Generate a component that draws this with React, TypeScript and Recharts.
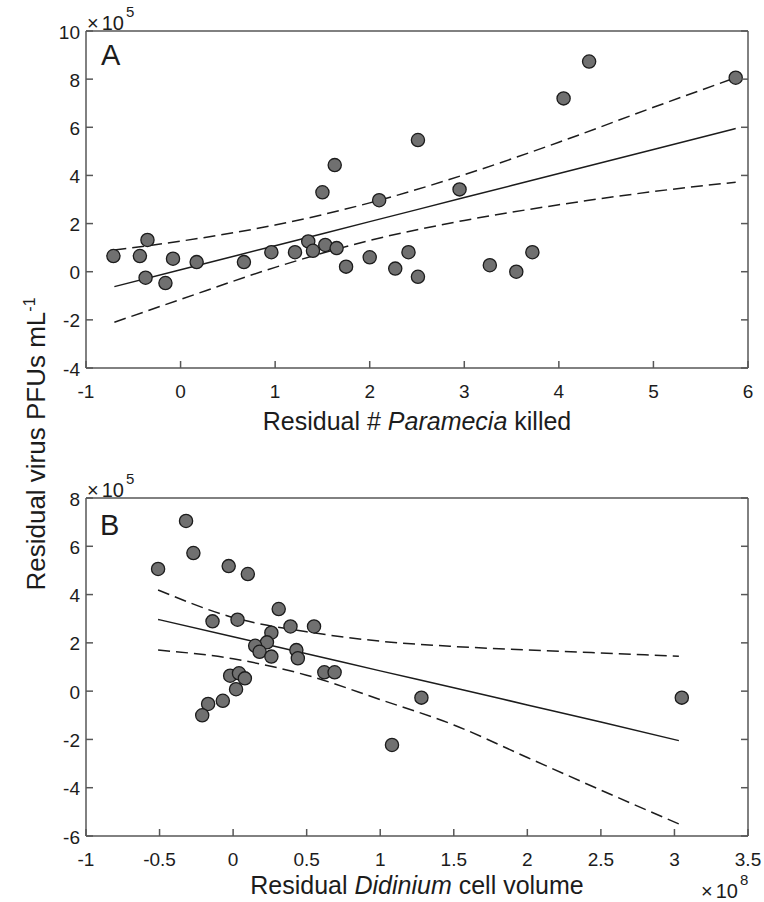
import React from 'react';
import { ComposedChart, Scatter, Line, XAxis, YAxis } from 'recharts';

const FONT = '"Liberation Sans", Arial, Helvetica, sans-serif';
const INK = '#1c1c1c';
const FRAME = '#575757';

// Panel A: residual # Paramecia killed vs residual virus (x10^5 PFUs/mL)
const killedA = [-0.71, -0.43, -0.35, -0.37, -0.16, -0.08, 0.17, 0.67, 0.96, 1.21, 1.35, 1.4, 1.5, 1.53, 1.63, 1.65, 1.75, 2.0, 2.1, 2.27, 2.41, 2.51, 2.51, 2.95, 3.27, 3.55, 3.72, 4.05, 4.32, 5.87];
const virusA = [0.65, 0.65, 1.32, -0.25, -0.47, 0.54, 0.4, 0.4, 0.81, 0.81, 1.26, 0.87, 3.3, 1.11, 4.43, 0.98, 0.21, 0.6, 2.97, 0.13, 0.81, 5.47, -0.21, 3.42, 0.27, 0.0, 0.81, 7.2, 8.73, 8.06];
const fitXA = [-0.7, 0, 1, 2, 3, 4, 5, 5.87];
const fitA = [-0.62, 0.08, 1.08, 2.08, 3.08, 4.08, 5.08, 5.95];
const upperA = [0.9, 1.27, 1.94, 2.86, 4.03, 5.38, 6.83, 8.06];
const lowerA = [-2.1, -1.15, 0.18, 1.3, 2.13, 2.78, 3.33, 3.72];
const xTicksA = [-1, 0, 1, 2, 3, 4, 5, 6];
const yTicksA = [-4, -2, 0, 2, 4, 6, 8, 10];

// Panel B: residual Didinium cell volume (x10^8) vs residual virus (x10^5)
const volumeB = [-0.51, -0.32, -0.27, -0.03, 0.1, -0.14, 0.03, 0.31, 0.26, 0.39, 0.55, 0.23, 0.15, 0.18, 0.26, 0.43, 0.44, 0.62, 0.69, -0.02, 0.04, 0.08, 0.02, -0.07, -0.17, -0.21, 1.08, 1.28, 3.05];
const virusB = [5.06, 7.05, 5.72, 5.18, 4.85, 2.89, 2.96, 3.4, 2.42, 2.68, 2.68, 2.02, 1.88, 1.63, 1.43, 1.7, 1.36, 0.78, 0.78, 0.64, 0.74, 0.53, 0.08, -0.4, -0.53, -1.0, -2.23, -0.27, -0.27];
const fitXB = [-0.51, 0, 0.5, 1, 1.5, 2, 2.5, 3.03];
const fitB = [2.97, 2.25, 1.55, 0.84, 0.14, -0.57, -1.28, -2.05];
const upperB = [4.19, 3.05, 2.46, 2.07, 1.85, 1.71, 1.58, 1.45];
const lowerB = [1.7, 1.34, 0.66, -0.35, -1.4, -2.75, -4.1, -5.5];
const xTicksB = [-1, -0.5, 0, 0.5, 1, 1.5, 2, 2.5, 3, 3.5];
const yTicksB = [-6, -4, -2, 0, 2, 4, 6, 8];

const zip = (xs: number[], ys: number[]) => xs.map((x, i) => ({ x, y: ys[i] }));

const Dot = (p: any) => (
  <circle cx={p.cx} cy={p.cy} r={6.6} fill="#707070" stroke={INK} strokeWidth={1.3} />
);

const tickText = { fontFamily: FONT, fontSize: 19, fill: INK };

const BottomTick = ({ x, y, payload }: any) => (
  <g>
    <line x1={x} y1={y} x2={x} y2={y - 7} stroke={FRAME} strokeWidth={1.5} />
    <text x={x} y={y + 23} textAnchor="middle" dominantBaseline="central" {...tickText}>
      {String(payload.value)}
    </text>
  </g>
);
const LeftTick = ({ x, y, payload }: any) => (
  <g>
    <line x1={x} y1={y} x2={x + 7} y2={y} stroke={FRAME} strokeWidth={1.5} />
    <text x={x - 6} y={y + 1} textAnchor="end" dominantBaseline="central" {...tickText}>
      {String(payload.value)}
    </text>
  </g>
);
const TopTick = ({ x, y }: any) => (
  <line x1={x} y1={y} x2={x} y2={y + 7} stroke={FRAME} strokeWidth={1.5} />
);
const RightTick = ({ x, y }: any) => (
  <line x1={x} y1={y} x2={x - 7} y2={y} stroke={FRAME} strokeWidth={1.5} />
);

const axisLine = { stroke: FRAME, strokeWidth: 1.5 };

function Panel({ points, fx, fit, up, lo, xDomain, yDomain, xTicks, yTicks, top, bottom }: any) {
  return (
    <ComposedChart width={764} height={440} margin={{ top: top - 1, right: 15, bottom: bottom - 1, left: 85 }}>
      <XAxis type="number" dataKey="x" domain={xDomain} ticks={xTicks} allowDataOverflow
        height={1} tickSize={0} tickMargin={0} tickLine={false} axisLine={axisLine} tick={<BottomTick />} interval={0} />
      <XAxis xAxisId="top" orientation="top" type="number" domain={xDomain} ticks={xTicks} allowDataOverflow
        height={1} tickSize={0} tickMargin={0} tickLine={false} axisLine={axisLine} tick={<TopTick />} interval={0} />
      <YAxis type="number" dataKey="y" domain={yDomain} ticks={yTicks} allowDataOverflow
        width={1} tickSize={0} tickMargin={0} tickLine={false} axisLine={axisLine} tick={<LeftTick />} interval={0} />
      <YAxis yAxisId="right" orientation="right" type="number" domain={yDomain} ticks={yTicks} allowDataOverflow
        width={1} tickSize={0} tickMargin={0} tickLine={false} axisLine={axisLine} tick={<RightTick />} interval={0} />
      <Scatter data={points} dataKey="y" shape={Dot} isAnimationActive={false} />
      <Line data={zip(fx, fit)} dataKey="y" type="monotone" stroke={INK} strokeWidth={1.5} dot={false} isAnimationActive={false} />
      <Line data={zip(fx, up)} dataKey="y" type="monotone" stroke={INK} strokeWidth={1.5} strokeDasharray="12 6" dot={false} isAnimationActive={false} />
      <Line data={zip(fx, lo)} dataKey="y" type="monotone" stroke={INK} strokeWidth={1.5} strokeDasharray="12 6" dot={false} isAnimationActive={false} />
    </ComposedChart>
  );
}

const abs = (left: number, top: number, extra: any = {}) => ({ position: 'absolute' as const, left, top, ...extra });

function TimesTen({ left, cy, exp }: { left: number; cy: number; exp: string }) {
  return (
    <>
      <div style={abs(left, cy - 10, { fontSize: 20, lineHeight: '20px', whiteSpace: 'nowrap' })}>
        ×<span style={{ marginLeft: 3 }}>10</span>
      </div>
      <div style={abs(left + 39, cy - 19, { fontSize: 15, lineHeight: '15px' })}>{exp}</div>
    </>
  );
}

export default function App() {
  return (
    <div style={{ position: 'absolute', left: 0, top: 0, width: 764, height: 902, background: '#fff', fontFamily: FONT, color: INK }}>
      <div style={abs(0, 0)}>
        <Panel points={zip(killedA, virusA)} fx={fitXA} fit={fitA} up={upperA} lo={lowerA}
          xDomain={[-1, 6]} yDomain={[-4, 10]} xTicks={xTicksA} yTicks={yTicksA} top={31} bottom={72} />
      </div>
      <div style={abs(0, 460)}>
        <Panel points={zip(volumeB, virusB)} fx={fitXB} fit={fitB} up={upperB} lo={lowerB}
          xDomain={[-1, 3.5]} yDomain={[-6, 8]} xTicks={xTicksB} yTicks={yTicksB} top={38} bottom={64} />
      </div>

      <TimesTen left={87} cy={23} exp="5" />
      <TimesTen left={87} cy={490} exp="5" />
      <TimesTen left={701} cy={891} exp="8" />

      <div style={abs(101, 41, { fontSize: 29, lineHeight: '29px' })}>A</div>
      <div style={abs(100, 511, { fontSize: 29, lineHeight: '29px' })}>B</div>

      <div style={abs(417, 421, { fontSize: 25, lineHeight: 1, whiteSpace: 'nowrap', transform: 'translate(-50%, -50%)' })}>
        Residual # <i>Paramecia</i> killed
      </div>
      <div style={abs(417, 885, { fontSize: 25, lineHeight: 1, whiteSpace: 'nowrap', transform: 'translate(-50%, -50%)' })}>
        Residual <i>Didinium</i> cell volume
      </div>
      <div style={abs(36, 444, { fontSize: 26, lineHeight: 1, whiteSpace: 'nowrap', transform: 'translate(-50%, -50%) rotate(-90deg)' })}>
        Residual virus PFUs mL<sup style={{ fontSize: 16, verticalAlign: 'super', lineHeight: 0 }}>-1</sup>
      </div>
    </div>
  );
}
